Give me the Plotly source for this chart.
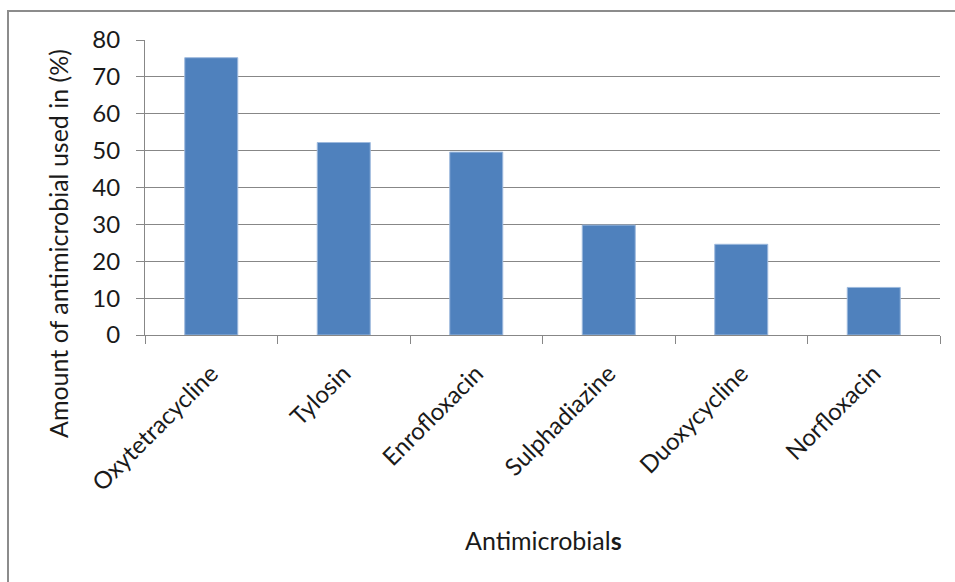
import plotly.graph_objects as go

# Antimicrobial usage share (%)
drugs = ["Oxytetracycline", "Tylosin", "Enrofloxacin", "Sulphadiazine", "Duoxycycline", "Norfloxacin"]
usage_pct = [75.2, 52.2, 49.6, 29.8, 24.6, 12.9]
y_ticks = [0, 10, 20, 30, 40, 50, 60, 70, 80]

W, H = 955, 582
L, R, T, B = 145, 15, 40, 247
pw, ph = W - L - R, H - T - B

FONT = "Lato, Open Sans, sans-serif"
GRID = "#878787"
TXT = "#1a1a1a"

fig = go.Figure(
    go.Bar(
        x=drugs,
        y=usage_pct,
        width=0.4,
        marker=dict(color="#4F81BD", line=dict(color="#9DB9DD", width=1)),
    )
)

def px_x(px):
    return (px - L) / pw

def px_y(py):
    return (H - B - py) / ph

fig.update_layout(
    width=W,
    height=H,
    margin=dict(l=L, r=R, t=T, b=B),
    paper_bgcolor="white",
    plot_bgcolor="white",
    showlegend=False,
    bargap=0.6,
    font=dict(family=FONT, color=TXT),
    xaxis=dict(
        type="category",
        tickson="boundaries",
        ticks="outside",
        ticklen=8,
        tickcolor=GRID,
        showline=True,
        linecolor=GRID,
        linewidth=1,
        showgrid=False,
        tickangle=-45,
        ticklabelstandoff=14,
        tickfont=dict(size=24, family=FONT, color=TXT),
    ),
    yaxis=dict(
        range=[0, 80],
        tickvals=y_ticks,
        ticks="outside",
        ticklen=8,
        tickcolor=GRID,
        showline=True,
        linecolor=GRID,
        linewidth=1,
        showgrid=True,
        gridcolor=GRID,
        gridwidth=1,
        zeroline=False,
        ticklabelstandoff=11,
        tickfont=dict(size=24, family=FONT, color=TXT),
    ),
    annotations=[
        dict(
            text="Amount of antimicrobial used in (%)",
            xref="paper", yref="paper",
            x=px_x(58), y=px_y(244),
            textangle=-90, showarrow=False,
            xanchor="center", yanchor="middle",
            font=dict(size=25, family=FONT, color=TXT),
        ),
        dict(
            text="Antimicrobial<b>s</b>",
            xref="paper", yref="paper",
            x=px_x(543), y=px_y(540),
            showarrow=False,
            xanchor="center", yanchor="middle",
            font=dict(size=25, family=FONT, color=TXT),
        ),
    ],
    shapes=[
        dict(
            type="rect", xref="paper", yref="paper",
            x0=px_x(8), x1=px_x(975), y0=px_y(600), y1=px_y(11),
            line=dict(color="#8c8c8c", width=2),
            fillcolor="rgba(0,0,0,0)", layer="below",
        )
    ],
)

fig.write_html("out.html")
